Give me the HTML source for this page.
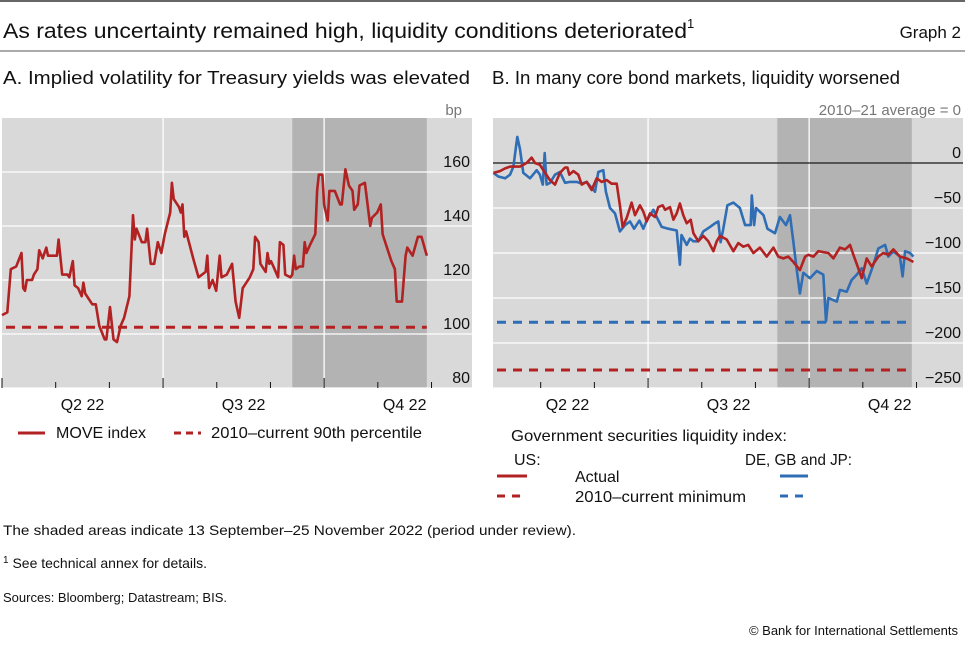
<!DOCTYPE html>
<html><head><meta charset="utf-8">
<style>
body{margin:0;background:#fff;width:965px;height:642px;overflow:hidden;font-family:"Liberation Sans",sans-serif;}
svg text{font-family:"Liberation Sans",sans-serif;}
</style></head>
<body>
<svg id="c" width="965" height="642" xmlns="http://www.w3.org/2000/svg">
<line x1="0" y1="1" x2="965" y2="1" stroke="#333" stroke-width="1.5"/>
<text x="3" y="38" font-size="21" fill="#111"><tspan textLength="684" lengthAdjust="spacingAndGlyphs">As rates uncertainty remained high, liquidity conditions deteriorated</tspan><tspan font-size="13" dy="-10">1</tspan></text>
<text x="961" y="38" font-size="17" fill="#111" text-anchor="end">Graph 2</text>
<line x1="0" y1="51" x2="965" y2="51" stroke="#555" stroke-width="1"/>
<text x="3" y="84" font-size="18" fill="#111" textLength="467" lengthAdjust="spacingAndGlyphs">A. Implied volatility for Treasury yields was elevated</text>
<text x="492" y="84" font-size="18" fill="#111" textLength="408" lengthAdjust="spacingAndGlyphs">B. In many core bond markets, liquidity worsened</text>
<text x="462" y="115" font-size="15" fill="#777" text-anchor="end">bp</text>
<text x="961" y="115" font-size="15" fill="#777" text-anchor="end">2010–21 average = 0</text>
<g id="ga"></g>
<g id="gb"></g>
<g>
<line x1="18" y1="433" x2="45" y2="433" stroke="#b22222" stroke-width="3"/>
<text x="56" y="438" font-size="16" fill="#111" textLength="90" lengthAdjust="spacingAndGlyphs">MOVE index</text>
<line x1="174" y1="433" x2="201" y2="433" stroke="#b22222" stroke-width="3" stroke-dasharray="7,5"/>
<text x="211" y="438" font-size="16" fill="#111" textLength="211" lengthAdjust="spacingAndGlyphs">2010–current 90th percentile</text>
</g>
<g>
<text x="511" y="441" font-size="16" fill="#111" textLength="276" lengthAdjust="spacingAndGlyphs">Government securities liquidity index:</text>
<text x="514" y="465" font-size="16" fill="#111">US:</text>
<text x="745" y="465" font-size="16" fill="#111" textLength="107" lengthAdjust="spacingAndGlyphs">DE, GB and JP:</text>
<line x1="497" y1="476" x2="527" y2="476" stroke="#b22222" stroke-width="3"/>
<text x="575" y="482" font-size="16" fill="#111">Actual</text>
<line x1="780" y1="476" x2="808" y2="476" stroke="#2f6db5" stroke-width="3"/>
<line x1="497" y1="496" x2="527" y2="496" stroke="#b22222" stroke-width="3" stroke-dasharray="8,7"/>
<text x="575" y="502" font-size="16" fill="#111" textLength="171" lengthAdjust="spacingAndGlyphs">2010–current minimum</text>
<line x1="780" y1="496" x2="808" y2="496" stroke="#2f6db5" stroke-width="3" stroke-dasharray="8,7"/>
</g>
<text x="3" y="535" font-size="14" fill="#111" textLength="573" lengthAdjust="spacingAndGlyphs">The shaded areas indicate 13 September–25 November 2022 (period under review).</text>
<text x="3" y="568" font-size="14" fill="#111"><tspan font-size="10" dy="-5">1</tspan><tspan dy="5">  See technical annex for details.</tspan></text>
<text x="3" y="602" font-size="13" fill="#111">Sources: Bloomberg; Datastream; BIS.</text>
<text x="958" y="635" font-size="13" fill="#111" text-anchor="end">© Bank for International Settlements</text>
</svg>
<script>
// Panel A data (day offsets from 1 Apr 2022, bp)
const moveDays=[0,3,5,8,11,12,13,14,17,18,20,21,23,25,26,28,31,32,34,37,38,40,41,43,45,46,47,51,53,55,58,59,61,63,65,67,69,72,74,75,76,79,81,82,84,86,88,90,92,95,96,97,100,101,102,103,104,108,111,115,116,117,119,121,123,124,127,130,132,134,136,138,140,142,143,145,146,149,150,151,152,154,156,157,159,160,163,164,165,166,168,170,171,172,174,177,178,179,181,182,184,185,187,188,191,192,194,196,198,199,201,202,205,208,209,212,214,215,219,220,222,223,226,228,229,232,235,237,240];
const moveVals=[107,108,124,125,130,117,116,120,120,122,124,131,128,132,129,129,129,135,122,122,121,127,118,117,114,119,115,111,111,103,98,98,110,98,97,103,106,114,144,135,139,134,134,139,126,126,134,130,137,145,156,150,147,145,148,136,138,128,121,123,129,117,120,116,129,121,122,126,112,106,117,119,121,124,136,134,126,123,130,126,127,124,121,134,133,122,121,122,129,124,125,125,134,130,133,137,153,159,159,148,142,153,153,153,148,148,161,155,153,146,148,155,156,140,143,145,148,137,129,127,124,112,112,129,132,129,136,136,129];
const move90th=102.5;
const aTicks=[80,100,120,140,160];
// Panel B data
const usDays=[3.6,7.3,10.2,13,18.6,22.4,25.2,27.1,29.9,32.8,35.6,38.4,41.2,44.1,45.4,46.5,48.8,51.6,53.5,56.3,59.1,62,64.8,67.6,70.4,73.3,75.1,76.6,78.9,81.7,83.6,86.4,88.3,90.2,92.1,94.9,96.8,99.2,100.6,103.4,105.3,107.2,109,110.9,112.8,115.1,116.6,119.4,122.2,125,127.9,129.8,131.6,135.4,139.2,142,144.8,147.6,150.5,154.2,158,161.8,164.6,167.4,170.2,173.1,176.8,179.7,181.5,184.4,187.2,192.8,195.7,199.4,202.3,205.1,207,209.8,211.7,214.5,217.3,221.1,223.9,226.7,229.6,233.3,237.1,240.9];
const usVals=[-11,-9,-6,-4,-4,0,6,0,-2,-11,-19,-24,-11,-5,-5,-13,-9,-13,-24,-21,-30,-17,-21,-19,-23,-23,-47,-71,-61,-44,-58,-47,-54,-65,-56,-60,-49,-47,-52,-49,-63,-56,-45,-58,-67,-63,-78,-87,-81,-87,-98,-87,-81,-85,-98,-89,-93,-91,-100,-94,-104,-94,-104,-106,-104,-110,-119,-104,-102,-104,-98,-100,-106,-94,-96,-91,-102,-117,-128,-106,-115,-104,-100,-102,-96,-104,-106,-110];
const otDays=[3.6,6.4,10.2,13,14.9,17.1,18.6,20.5,24.3,28.1,29.9,31.5,32.6,33.7,35.6,38.4,41.2,44.1,46.9,50.7,53.5,56.3,61,62.9,65.7,67.2,69.5,72.3,75.1,78,80.8,83.1,86.1,88.3,90.2,94,95.9,98.7,102.4,107.2,109,109.9,112.8,114.7,116.6,119.4,122.2,126,128.8,130.7,132,133.5,135.8,139.2,142.9,145.8,149,149.6,150.9,152,156.2,158.4,162.7,165.5,168.9,171.2,173.1,175,176.8,178.7,182.5,186.3,190,191.5,192.8,197.6,199.4,203.2,206,208.9,211.7,214.5,218.3,221.1,224.9,226.7,229.6,233.3,234.8,236.2,239,240.9];
const otVals=[-11,-15,-17,-13,-4,29,16,-11,-17,-8,-13,-24,11,-24,-22,-13,-10,-22,-21,-21,-23,-21,-32,-10,-8,-32,-50,-56,-76,-69,-65,-73,-64,-73,-64,-52,-60,-71,-73,-75,-113,-80,-91,-84,-87,-87,-76,-71,-67,-65,-88,-73,-47,-44,-50,-69,-69,-36,-69,-50,-58,-73,-78,-60,-69,-58,-88,-119,-145,-122,-128,-120,-124,-176,-150,-154,-141,-143,-130,-124,-117,-134,-113,-95,-91,-104,-98,-104,-126,-98,-100,-104];
const usMin=-230;
const otMin=-177;
const bTicks=[-250,-200,-150,-100,-50,0];
const quarterLabels=["Q2 22","Q3 22","Q4 22"];
const shadeStart=164, shadeEnd=240; // 13 Sep, 25 Nov (approx. day offsets)

const NS="http://www.w3.org/2000/svg";
function mk(parent,tag,attrs){const e=document.createElementNS(NS,tag);for(const k in attrs)e.setAttribute(k,attrs[k]);parent.appendChild(e);return e;}

function panel(g,o){
  const x=d=>o.x0+d*o.pxDay;
  const y=v=>o.yBase-(v-o.vBase)*o.pxVal;
  let bg=mk(g,'rect',{x:o.bgL,y:118,width:o.bgR-o.bgL,height:270,fill:'#d9d9d9'});
  
  
  let sh=mk(g,'rect',{x:x(shadeStart),y:118,width:x(shadeEnd)-x(shadeStart),height:270,fill:'#b3b3b3'});
  
  
  o.ticks.forEach(t=>{
    let gl=mk(g,'line',{x1:o.bgL,x2:o.bgR,y1:y(t),y2:y(t),stroke:'#fff','stroke-width':1.3});
    
    
    let tl=mk(g,'text',{x:o.bgR-2,y:y(t)-5,'font-size':16,fill:'#111','text-anchor':'end'});
    tl.textContent=(t<0?'−'+(-t):t);
    
    
  });
  [91,182].forEach(d=>{
    let vl=mk(g,'line',{x1:x(d),x2:x(d),y1:118,y2:388,stroke:'#fff','stroke-width':1.3});
    
    
  });
  if(o.zero){let z=mk(g,'line',{x1:o.bgL,x2:o.bgR,y1:y(0),y2:y(0),stroke:'#111','stroke-width':1.2});
    
    }
  for(let i=0;i<=9;i++){const d=i*91/3;
    if(x(d)<o.bgL||x(d)>o.bgR)continue;
    let tk=mk(g,'line',{x1:x(d),x2:x(d),y1:i%3==0?378:382,y2:388,stroke:'#111','stroke-width':1});
    
    }
  quarterLabels.forEach((q,i)=>{
    let t=mk(g,'text',{x:x(i*91+45.5),y:410,'font-size':16,fill:'#111','text-anchor':'middle'});
    t.textContent=q;
    
    });
  o.dashed.forEach(([v,c,n])=>{
    let dl=mk(g,'line',{x1:o.bgL+4,x2:x(240),y1:y(v),y2:y(v),stroke:c,'stroke-width':3,'stroke-dasharray':'9,7'});
    
    });
  o.series.forEach(([ds,vs,c,n])=>{
    let pts=ds.map((d,i)=>x(d).toFixed(1)+','+y(vs[i]).toFixed(1)).join(' ');
    let pl=mk(g,'polyline',{points:pts,fill:'none',stroke:c,'stroke-width':2.6,'stroke-linejoin':'round'});
    
    });
}
panel(document.getElementById('ga'),{p:'a',x0:2,pxDay:1.77,yBase:388,vBase:80,pxVal:2.7,bgL:2,bgR:472,ticks:aTicks,
  dashed:[[move90th,'#b22222','move-90th-percentile-line']],series:[[moveDays,moveVals,'#b22222','move-index-line']]});
panel(document.getElementById('gb'),{p:'b',x0:487,pxDay:1.77,yBase:163,vBase:0,pxVal:0.9,bgL:493,bgR:963,ticks:bTicks,zero:true,
  dashed:[[otMin,'#2f6db5','other-minimum-line'],[usMin,'#b22222','us-minimum-line']],
  series:[[otDays,otVals,'#2f6db5','de-gb-jp-liquidity-line'],[usDays,usVals,'#b22222','us-liquidity-line']]});
</script>
</body></html>
